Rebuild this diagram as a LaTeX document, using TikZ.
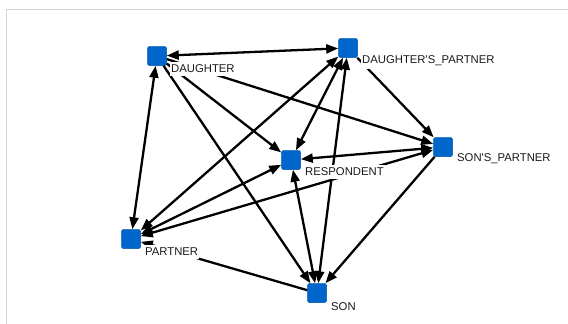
\documentclass[tikz,border=0pt]{standalone}
\usepackage{fontspec}
\setmainfont{Liberation Sans}
\usetikzlibrary{arrows.meta,calc}
\definecolor{nodeblue}{RGB}{0,102,204}
\definecolor{framegray}{RGB}{212,212,212}
\definecolor{labtext}{RGB}{25,25,25}
\begin{document}
\begin{tikzpicture}[x=1pt,y=-1pt,
  actor/.style={rectangle, rounded corners=2pt, minimum size=19pt, inner sep=0pt,
    fill=nodeblue, draw=nodeblue!85!black, line width=0.5pt},
  lab/.style={anchor=west, fill=white, inner xsep=1pt, inner ysep=3pt,
    font=\fontsize{11.3}{12}\selectfont, text=labtext},
  tie/.style={line width=2.3pt, draw=black},
  one/.style={tie, -{Triangle[length=12pt,width=9pt]}},
  two/.style={tie, {Triangle[length=12pt,width=9pt]}-{Triangle[length=12pt,width=9pt]}},
  frame/.style={draw=framegray, line width=1pt}]
\useasboundingbox (0,0) rectangle (568,324);
\fill[white] (0,0) rectangle (568,324);
\draw[frame] (6,324) -- (6,9) -- (568,9);

% actors
\node[actor] (d)  at (157,56)  {};
\node[actor] (dp) at (348,48)  {};
\node[actor] (r)  at (291,160) {};
\node[actor] (sp) at (443,147) {};
\node[actor] (p)  at (131,239) {};
\node[actor] (s)  at (317,293) {};

% ties
\draw[two] (d) -- (dp);
\draw[one] (d) -- (r);
\draw[one] (d) -- (sp);
\draw[one] (d) -- (s);
\draw[two] (p) -- (d);
\draw[one] (dp) -- (sp);
\draw[two] (dp) -- (r);
\draw[two] (dp) -- (p);
\draw[two] (dp) -- (s);
\draw[two] (r) -- (sp);
\draw[two] (r) -- (p);
\draw[two] (r) -- (s);
\draw[two] (sp) -- (p);
\draw[one] (sp) -- (s);
\draw[one] (s) -- (p);

% labels
\node[lab] (dL)  at ($(d)+(13,12.5)$)  {DAUGHTER};
\node[lab] (dpL) at ($(dp)+(13,12.5)$) {DAUGHTER\textquotesingle S\_PARTNER};
\node[lab] (spL) at ($(sp)+(13,11.5)$) {SON\textquotesingle S\_PARTNER};
\node[lab] (rL)  at ($(r)+(13,12)$)    {RESPONDENT};
\node[lab] (pL)  at ($(p)+(13,13)$)    {PARTNER};
\node[lab] (sL)  at ($(s)+(13,14)$)    {SON};
\end{tikzpicture}
\end{document}
